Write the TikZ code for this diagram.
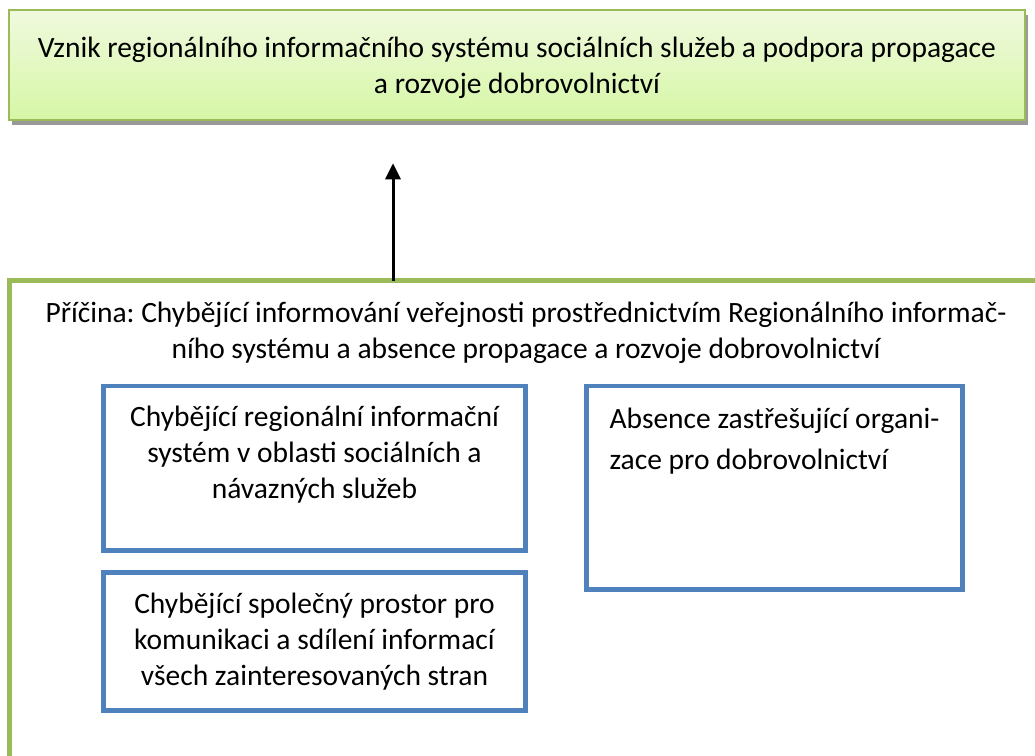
\documentclass[tikz,border=0pt]{standalone}
\usepackage{fontspec}
\setmainfont{Carlito}
\frenchspacing
\usetikzlibrary{arrows.meta,shadows}
\definecolor{framegreen}{RGB}{155,187,89}
\definecolor{boxblue}{RGB}{79,129,189}
\definecolor{goaltop}{RGB}{240,249,222}
\definecolor{goalbot}{RGB}{214,247,166}
\newcommand{\fs}{\fontsize{29.5}{36}\selectfont}

\begin{document}
\begin{tikzpicture}[x=1pt,y=-1pt,
  >={Triangle[length=16pt,width=15pt]},
  goalbox/.style={draw=framegreen,line width=2pt,top color=goaltop,bottom color=goalbot,
    drop shadow={shadow xshift=3pt,shadow yshift=-5pt,fill=black!40,opacity=1},
    align=center,inner sep=0pt,outer sep=0pt,font=\fs},
  causebox/.style={draw=framegreen,line width=5pt,anchor=north west,align=center,
    inner sep=0pt,outer sep=0pt,font=\fs},
  gapbox/.style={draw=boxblue,line width=4.5pt,anchor=north west,inner sep=0pt,
    outer sep=0pt,font=\fs}]
  \useasboundingbox (0,0) rectangle (1035,755);
  \clip (0,0) rectangle (1035,755);
  \node[goalbox,minimum width=1016.6pt,minimum height=109.2pt,text height=60pt,text depth=3.8pt]
    (goal) at (517,64.9)
    {Vznik regionálního informačního systému sociálních služeb a podpora propagace\\a rozvoje dobrovolnictví};
  \node[causebox,minimum width=1033pt,text height=77.3pt,text depth=442.7pt]
    (cause) at (9.5,280.7)
    {Příčina: Chybějící informování veřejnosti prostřednictvím Regionálního informač-\\ního systému a absence propagace a rozvoje dobrovolnictví};
  \node[gapbox,minimum width=422pt,align=center,text height=112pt,text depth=52.5pt]
    (regsys) at (103.5,386)
    {Chybějící regionální informační\\systém v oblasti sociálních a\\návazných služeb};
  \node[gapbox,minimum width=422pt,align=center,text height=112.5pt,text depth=25.5pt]
    (sharing) at (103.5,572.5)
    {Chybějící společný prostor pro\\komunikaci a sdílení informací\\všech zainteresovaných stran};
  \node[gapbox,minimum width=376pt,align=left,text height=83pt,text depth=120.5pt,
    font=\fontsize{29.5}{41}\selectfont]
    (umbrella) at (586.5,386)
    {Absence zastřešující organi-\\zace pro dobrovolnictví};
  \coordinate (tip) at (393,163.3);
  \draw[->,line width=3pt] (cause.north -| tip) -- (tip);
\end{tikzpicture}
\end{document}
